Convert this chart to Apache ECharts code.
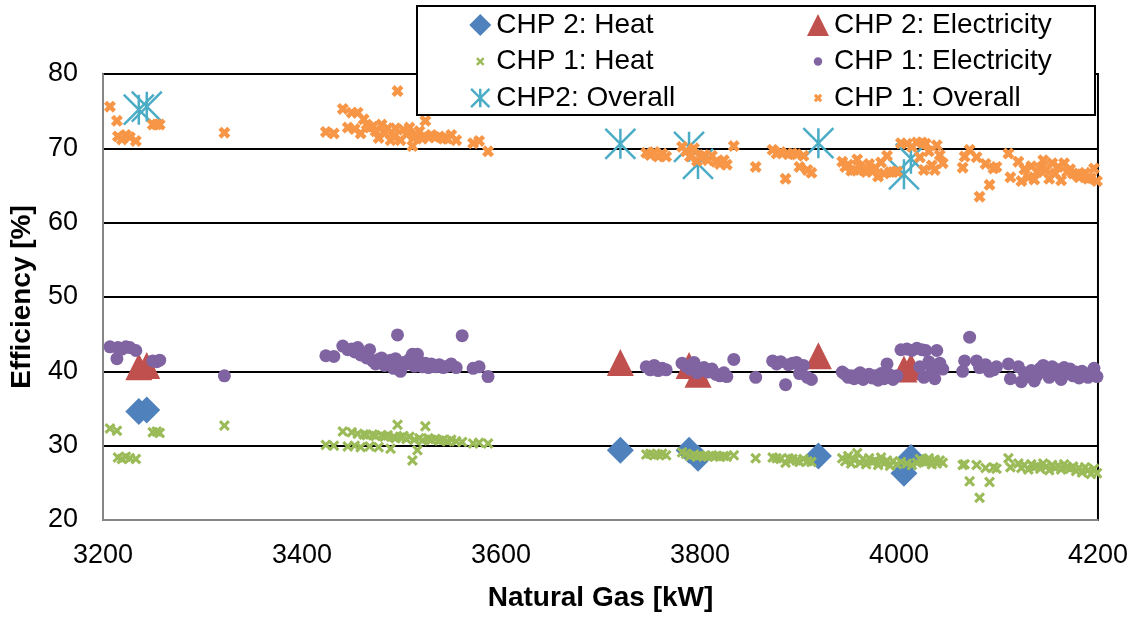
<!DOCTYPE html>
<html>
<head>
<meta charset="utf-8">
<script src="https://cdn.jsdelivr.net/npm/echarts@6/dist/echarts.min.js"></script>
<style>
html,body{margin:0;padding:0;background:#fff;}
#chart{width:1131px;height:617px;}
</style>
</head>
<body>
<div id="chart"></div>
<script>
// ---- Tick settings ----
const xTicks = {min: 3200, max: 4200, interval: 200};
const yTicks = {min: 20, max: 80, interval: 10};

// ---- CHP 2 (few measurements) ----
const chp2Gas     = [3236, 3244, 3720, 3789, 3798, 3919, 4005, 4012];
const chp2Heat    = [34.6, 34.8, 29.4, 29.4, 28.3, 28.6, 26.3, 28.4];
const chp2Elec    = [40.6, 40.8, 41.2, 40.8, 39.6, 42.1, 40.3, 40.6];
const chp2Overall = [75.2, 75.6, 70.6, 70.2, 67.9, 70.7, 66.5, 68.6];

// ---- CHP 1 (many measurements) ----
const chp1Gas = [
  3207,3214,3215,3219,3223,3227,3233,3250,3254,3257,3322,
  3424,3432,3441,3446,3450,3453,3456,3459,3462,3465,3468,3471,3474,3477,3480,3483,3486,3489,3492,3494,3496,3499,
  3502,3505,3508,3511,3513,3516,3518,3521,3524,3527,3530,3534,3538,3542,3546,3550,3555,3561,3572,3578,3587,
  3746,3750,3754,3758,3762,3766,3782,3786,3790,3794,3797,3800,3804,3808,3812,3816,3820,3824,3827,3834,3856,
  3873,3877,3881,3886,3889,3893,3897,3900,3904,3908,3912,
  3943,3946,3949,3952,3955,3958,3961,3964,3967,3970,3973,3976,3979,3982,3985,3988,3991,3994,3998,
  4002,4008,4013,4018,4021,4023,4025,4027,4030,4033,4036,4038,4041,4044,
  4064,4066,4071,4078,4081,4087,4091,4095,4098,
  4110,4112,4120,4123,4126,4130,4133,4136,4139,4142,4145,4148,4151,4154,4157,4160,4163,4166,4169,4172,4175,4178,4181,4184,4187,4190,4193,4196,4199
];
const chp1Heat = [
  32.3,32.0,28.4,28.2,28.5,28.3,28.2,31.8,31.9,31.7,32.7,
  30.1,30.0,31.9,29.9,31.8,30.0,31.6,29.8,31.5,31.4,29.9,31.5,31.3,29.8,31.4,31.2,31.4,29.6,31.2,31.0,32.8,31.1,
  31.3,30.9,31.2,28.0,30.8,29.4,31.0,30.7,32.6,31.0,30.8,30.9,30.7,30.8,30.6,30.8,30.6,30.5,30.3,30.4,30.3,
  28.8,28.9,28.7,28.8,28.9,28.7,29.1,28.9,28.6,28.8,28.5,28.7,28.6,28.5,28.7,28.6,28.5,28.6,28.5,28.7,28.3,
  28.4,28.3,28.2,27.7,28.3,28.2,28.0,27.8,28.2,27.9,27.8,
  28.3,27.9,28.6,27.6,28.1,29.0,27.7,28.2,27.5,28.3,27.8,28.0,27.4,28.4,27.6,28.0,27.3,27.9,27.5,
  27.8,27.6,27.4,27.7,28.2,27.9,27.9,27.8,28.3,27.5,28.1,27.6,28.0,27.7,
  27.4,27.5,25.2,27.4,23.0,27.0,25.1,27.1,26.9,
  28.3,27.1,27.6,27.0,27.4,26.8,27.5,27.1,27.3,26.9,27.6,27.2,26.7,27.4,27.0,27.3,26.8,27.5,27.1,26.9,27.2,26.6,27.0,26.4,27.1,26.7,26.2,26.9,26.3
];
const chp1Elec = [
  43.3,41.7,43.2,43.0,43.3,43.2,42.8,41.4,41.3,41.5,39.4,
  42.1,42.0,43.4,42.9,43.0,42.6,43.2,42.2,42.4,41.8,42.9,41.4,41.0,41.6,41.8,40.8,41.3,41.5,40.4,41.7,44.9,40.0,
  41.2,41.0,41.6,42.3,40.7,42.3,41.3,40.6,41.1,40.5,41.0,40.6,40.9,40.5,40.7,41.0,40.5,44.8,40.4,40.6,39.3,
  40.6,40.2,40.8,40.1,40.4,40.2,41.1,40.7,40.3,41.2,39.8,40.2,40.5,39.9,40.3,39.6,39.4,39.8,39.3,41.6,39.2,
  41.4,41.0,41.3,38.2,40.9,41.1,41.2,39.7,40.8,39.2,38.9,
  39.9,39.6,39.2,39.4,39.0,39.5,39.8,38.9,39.3,39.6,39.1,39.4,38.8,39.7,39.0,41.0,39.5,38.9,39.4,
  42.9,43.0,42.8,43.1,40.6,42.9,39.2,42.8,41.3,40.2,39.0,42.8,41.1,40.3,
  40.0,41.4,44.6,41.4,40.5,40.9,40.0,40.2,40.6,
  41.0,39.0,40.6,38.6,39.8,39.3,40.1,38.7,39.5,40.4,40.8,39.9,39.2,40.6,39.6,40.2,38.9,40.5,39.7,40.3,39.4,39.9,39.1,40.0,39.6,39.2,39.8,40.4,39.3
];
const chp1Overall = [
  75.6,73.7,71.6,71.2,71.8,71.5,71.0,73.2,73.2,73.2,72.1,
  72.2,72.0,75.3,72.8,74.8,72.6,74.8,72.0,73.9,73.2,72.8,72.9,72.3,71.4,73.2,72.0,72.7,71.1,71.6,72.7,77.7,71.1,
  72.5,71.9,72.8,70.3,71.5,71.7,72.3,71.3,73.7,71.5,71.8,71.5,71.6,71.3,71.3,71.8,71.1,75.3,70.7,71.0,69.6,
  69.4,69.1,69.5,68.9,69.3,68.9,70.2,69.6,68.9,70.0,68.3,68.9,69.1,68.4,69.0,68.2,67.9,68.4,67.8,70.3,67.5,
  69.8,69.3,69.5,65.9,69.2,69.3,69.2,67.5,69.0,67.1,66.7,
  68.2,67.5,67.8,67.0,67.1,68.5,67.5,67.1,66.8,67.9,66.9,67.4,66.2,68.1,66.6,69.0,66.8,66.8,66.9,
  70.7,70.6,70.2,70.8,68.8,70.8,67.1,70.6,69.6,67.7,67.1,70.4,69.1,68.0,
  67.4,68.9,69.8,68.8,63.5,67.9,65.1,67.3,67.5,
  69.3,66.1,68.2,65.6,67.2,66.1,67.6,65.8,66.8,67.3,68.4,67.1,65.9,68.0,66.6,67.5,65.7,68.0,66.8,67.2,66.6,66.5,66.1,66.4,66.7,65.9,66.0,67.3,65.6
];

// ---- Labels ----
const seriesNames = ['CHP 2: Heat','CHP 2: Electricity','CHP 1: Heat','CHP 1: Electricity','CHP2: Overall','CHP 1: Overall'];
const xTitle = 'Natural Gas [kW]';
const yTitle = 'Efficiency [%]';

function pairs(xs, ys){ return xs.map((x,i)=>[x, ys[i]]); }

const FONT = '"Liberation Sans", Arial, sans-serif';
const xPath = 'M0,2L2,0L5,3L8,0L10,2L7,5L10,8L8,10L5,7L2,10L0,8L3,5Z';
const xFatPath = 'M0,2.6L2.6,0L5,2.4L7.4,0L10,2.6L7.6,5L10,7.4L7.4,10L5,7.6L2.6,10L0,7.4L2.4,5Z';
const starPath = 'M15,0L15,30M0,0L30,30M30,0L0,30';
const circlePath = 'M5,0A5,5,0,1,1,5,10A5,5,0,1,1,5,0Z';
const pad = 'M-8,-8M18,18';

const colors = {
  heat2:'#4F81BD', elec2:'#C0504D', heat1:'#9BBB59', elec1:'#8064A2', over2:'#4BACC6', over1:'#F79646'
};

const chart = echarts.init(document.getElementById('chart'), null, {renderer:'canvas'});
chart.setOption({
  animation:false,
  textStyle:{fontFamily:FONT},
  grid:{left:99, top:74, width:1001, height:448, show:true, borderColor:'#000', borderWidth:2, backgroundColor:'transparent'},
  xAxis:{
    type:'value', min:xTicks.min, max:xTicks.max, interval:xTicks.interval,
    axisLine:{show:true, onZero:false, lineStyle:{color:'#868686', width:2}},
    axisTick:{show:false},
    splitLine:{show:false},
    axisLabel:{fontSize:27, color:'#000', margin:22, fontFamily:FONT, formatter:(v)=>String(v)},
    name:xTitle, nameLocation:'middle', nameGap:64,
    nameTextStyle:{fontSize:28, fontWeight:'bold', color:'#000', fontFamily:FONT}
  },
  yAxis:{
    type:'value', min:yTicks.min, max:yTicks.max, interval:yTicks.interval,
    axisLine:{show:true, onZero:false, lineStyle:{color:'#868686', width:2}},
    axisTick:{show:false},
    splitLine:{show:true, showMinLine:false, lineStyle:{color:'#000', width:2}},
    axisLabel:{fontSize:27, color:'#000', margin:25, fontFamily:FONT, formatter:(v)=>String(v)},
    name:yTitle, nameLocation:'middle', nameGap:67,
    nameTextStyle:{fontSize:28, fontWeight:'bold', color:'#000', fontFamily:FONT}
  },
  graphic:[{
    type:'rect', z:100, silent:true,
    shape:{x:417, y:6, width:678, height:109},
    style:{fill:'#fff', stroke:'#000', lineWidth:2}
  }],
  legend:[{
    z:200, orient:'vertical', left:468, top:10, padding:0,
    itemWidth:22, itemHeight:22, itemGap:6.5,
    textStyle:{fontSize:28, color:'#000', lineHeight:30, fontFamily:FONT},
    data:[
      {name:seriesNames[0], icon:'diamond'},
      {name:seriesNames[2], icon:'path://'+pad+xPath},
      {name:seriesNames[4], icon:'path://M-3,-3M33,33'+starPath, itemStyle:{color:'transparent', borderColor:colors.over2, borderWidth:2.5}}
    ]
  },{
    z:200, orient:'vertical', left:807, top:10, padding:0,
    itemWidth:22, itemHeight:22, itemGap:6.5,
    textStyle:{fontSize:28, color:'#000', lineHeight:30, fontFamily:FONT},
    data:[
      {name:seriesNames[1], icon:'triangle'},
      {name:seriesNames[3], icon:'path://'+pad+circlePath},
      {name:seriesNames[5], icon:'path://'+pad+xFatPath}
    ]
  }],
  series:[
    {name:seriesNames[0], type:'scatter', clip:false, symbol:'diamond', symbolSize:27,
     itemStyle:{color:colors.heat2, opacity:1}, data:pairs(chp2Gas, chp2Heat)},
    {name:seriesNames[1], type:'scatter', clip:false, symbol:'triangle', symbolSize:27,
     itemStyle:{color:colors.elec2, opacity:1}, data:pairs(chp2Gas, chp2Elec)},
    {name:seriesNames[2], type:'scatter', clip:false, symbol:'path://'+xPath, symbolSize:11,
     itemStyle:{color:colors.heat1, opacity:1}, data:pairs(chp1Gas, chp1Heat)},
    {name:seriesNames[3], type:'scatter', clip:false, symbol:'circle', symbolSize:13,
     itemStyle:{color:colors.elec1, opacity:1}, data:pairs(chp1Gas, chp1Elec)},
    {name:seriesNames[4], type:'scatter', clip:false, symbol:'path://'+starPath, symbolSize:30,
     itemStyle:{color:'transparent', borderColor:colors.over2, borderWidth:2.5, opacity:1}, data:pairs(chp2Gas, chp2Overall)},
    {name:seriesNames[5], type:'scatter', clip:false, symbol:'path://'+xFatPath, symbolSize:12,
     itemStyle:{color:colors.over1, opacity:1}, data:pairs(chp1Gas, chp1Overall)}
  ]
});
</script>
</body>
</html>
